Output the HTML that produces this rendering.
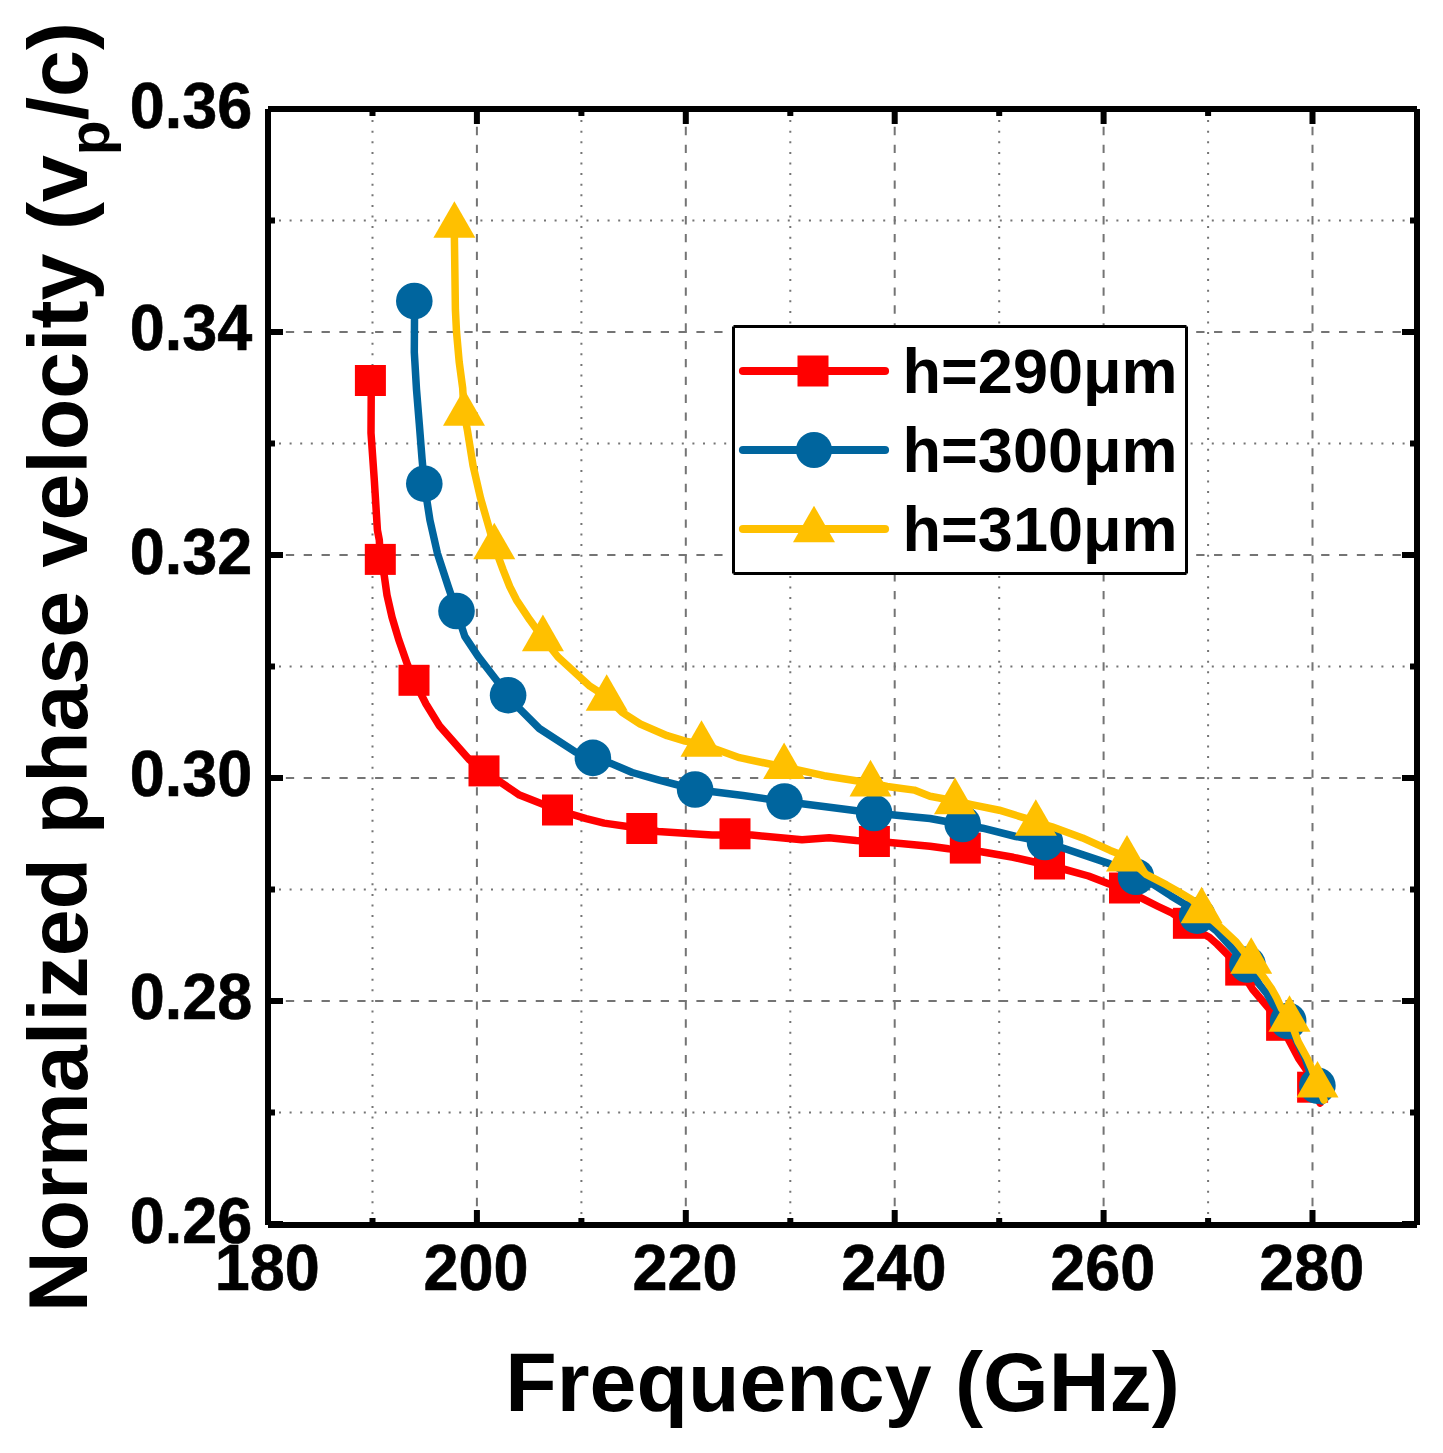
<!DOCTYPE html><html><head><meta charset="utf-8"><style>
html,body{margin:0;padding:0;background:#fff;}
svg{display:block;}
text{font-family:"Liberation Sans",sans-serif;font-weight:bold;fill:#000;}
</style></head><body>
<svg width="1443" height="1453" viewBox="0 0 1443 1453">
<rect width="1443" height="1453" fill="#fff"/>
<line x1="372.5" y1="1213.9" x2="372.5" y2="112" stroke="#747474" stroke-width="2" stroke-dasharray="2 8.6"/>
<line x1="581.4" y1="1213.9" x2="581.4" y2="112" stroke="#747474" stroke-width="2" stroke-dasharray="2 8.6"/>
<line x1="790.3" y1="1213.9" x2="790.3" y2="112" stroke="#747474" stroke-width="2" stroke-dasharray="2 8.6"/>
<line x1="999.2" y1="1213.9" x2="999.2" y2="112" stroke="#747474" stroke-width="2" stroke-dasharray="2 8.6"/>
<line x1="1208.1" y1="1213.9" x2="1208.1" y2="112" stroke="#747474" stroke-width="2" stroke-dasharray="2 8.6"/>
<line x1="476.9" y1="109" x2="476.9" y2="1225" stroke="#747474" stroke-width="2" stroke-dasharray="8.3 9.55"/>
<line x1="685.8" y1="109" x2="685.8" y2="1225" stroke="#747474" stroke-width="2" stroke-dasharray="8.3 9.55"/>
<line x1="894.7" y1="109" x2="894.7" y2="1225" stroke="#747474" stroke-width="2" stroke-dasharray="8.3 9.55"/>
<line x1="1103.6" y1="109" x2="1103.6" y2="1225" stroke="#747474" stroke-width="2" stroke-dasharray="8.3 9.55"/>
<line x1="1312.5" y1="109" x2="1312.5" y2="1225" stroke="#747474" stroke-width="2" stroke-dasharray="8.3 9.55"/>
<line x1="279" y1="220.5" x2="1414" y2="220.5" stroke="#747474" stroke-width="2" stroke-dasharray="2 8.6"/>
<line x1="279" y1="443.5" x2="1414" y2="443.5" stroke="#747474" stroke-width="2" stroke-dasharray="2 8.6"/>
<line x1="279" y1="666.5" x2="1414" y2="666.5" stroke="#747474" stroke-width="2" stroke-dasharray="2 8.6"/>
<line x1="279" y1="889.5" x2="1414" y2="889.5" stroke="#747474" stroke-width="2" stroke-dasharray="2 8.6"/>
<line x1="279" y1="1112.5" x2="1414" y2="1112.5" stroke="#747474" stroke-width="2" stroke-dasharray="2 8.6"/>
<line x1="268" y1="332.0" x2="1417" y2="332.0" stroke="#747474" stroke-width="2" stroke-dasharray="8.3 9.55"/>
<line x1="268" y1="555.0" x2="1417" y2="555.0" stroke="#747474" stroke-width="2" stroke-dasharray="8.3 9.55"/>
<line x1="268" y1="778.0" x2="1417" y2="778.0" stroke="#747474" stroke-width="2" stroke-dasharray="8.3 9.55"/>
<line x1="268" y1="1001.0" x2="1417" y2="1001.0" stroke="#747474" stroke-width="2" stroke-dasharray="8.3 9.55"/>
<rect x="265.0" y="1210" width="6" height="12"/>
<rect x="265.0" y="112" width="6" height="12"/>
<rect x="369.5" y="1218" width="6" height="4"/>
<rect x="369.5" y="112" width="6" height="4"/>
<rect x="473.9" y="1210" width="6" height="12"/>
<rect x="473.9" y="112" width="6" height="12"/>
<rect x="578.4" y="1218" width="6" height="4"/>
<rect x="578.4" y="112" width="6" height="4"/>
<rect x="682.8" y="1210" width="6" height="12"/>
<rect x="682.8" y="112" width="6" height="12"/>
<rect x="787.3" y="1218" width="6" height="4"/>
<rect x="787.3" y="112" width="6" height="4"/>
<rect x="891.7" y="1210" width="6" height="12"/>
<rect x="891.7" y="112" width="6" height="12"/>
<rect x="996.2" y="1218" width="6" height="4"/>
<rect x="996.2" y="112" width="6" height="4"/>
<rect x="1100.6" y="1210" width="6" height="12"/>
<rect x="1100.6" y="112" width="6" height="12"/>
<rect x="1205.1" y="1218" width="6" height="4"/>
<rect x="1205.1" y="112" width="6" height="4"/>
<rect x="1309.5" y="1210" width="6" height="12"/>
<rect x="1309.5" y="112" width="6" height="12"/>
<rect x="1414.0" y="1218" width="6" height="4"/>
<rect x="1414.0" y="112" width="6" height="4"/>
<rect x="271" y="1221.0" width="12" height="6"/>
<rect x="1402" y="1221.0" width="12" height="6"/>
<rect x="271" y="1109.5" width="4" height="6"/>
<rect x="1410" y="1109.5" width="4" height="6"/>
<rect x="271" y="998.0" width="12" height="6"/>
<rect x="1402" y="998.0" width="12" height="6"/>
<rect x="271" y="886.5" width="4" height="6"/>
<rect x="1410" y="886.5" width="4" height="6"/>
<rect x="271" y="775.0" width="12" height="6"/>
<rect x="1402" y="775.0" width="12" height="6"/>
<rect x="271" y="663.5" width="4" height="6"/>
<rect x="1410" y="663.5" width="4" height="6"/>
<rect x="271" y="552.0" width="12" height="6"/>
<rect x="1402" y="552.0" width="12" height="6"/>
<rect x="271" y="440.5" width="4" height="6"/>
<rect x="1410" y="440.5" width="4" height="6"/>
<rect x="271" y="329.0" width="12" height="6"/>
<rect x="1402" y="329.0" width="12" height="6"/>
<rect x="271" y="217.5" width="4" height="6"/>
<rect x="1410" y="217.5" width="4" height="6"/>
<rect x="271" y="106.0" width="12" height="6"/>
<rect x="1402" y="106.0" width="12" height="6"/>
<path d="M268,106H1417V112H268Z M268,1222H1417V1228H268Z M265,109H271V1225H265Z M1414,109H1420V1225H1414Z" fill="#000"/>
<g fill="#ff0000"><path d="M370.4,380.5 L371.2,396.0 L371.0,433.0 L374.3,480.0 L377.4,530.0 L379.3,540.0 L380.4,559.4 L384.2,575.3 L387.0,595.1 L392.0,617.1 L398.6,639.2 L407.4,664.5 L414.0,680.3 L426.0,704.0 L439.4,725.7 L469.4,759.8 L484.0,770.9 L519.5,795.1 L557.5,810.0 L586.1,818.6 L604.1,823.1 L641.8,828.5 L658.0,831.5 L685.0,833.3 L712.0,835.1 L735.0,835.0 L751.7,835.1 L802.0,839.8 L829.2,837.8 L856.2,840.5 L874.4,841.8 L889.9,842.5 L930.0,846.2 L948.5,848.8 L965.3,850.3 L981.3,851.8 L1013.2,857.3 L1049.5,865.5 L1065.0,869.5 L1088.5,876.0 L1108.6,883.7 L1124.5,889.5 L1141.6,898.2 L1158.2,906.5 L1172.3,913.2 L1188.4,923.3 L1201.5,933.0 L1209.3,937.2 L1217.0,944.0 L1228.5,955.5 L1240.7,970.4 L1252.6,989.2 L1269.0,1008.5 L1281.6,1025.3 L1289.6,1041.6 L1298.5,1058.3 L1306.6,1070.0 L1312.6,1087.2 L1320.0,1103.0" fill="none" stroke="#ff0000" stroke-width="7.5" stroke-linecap="round" stroke-linejoin="round"/><rect x="354.9" y="365.0" width="31" height="31"/><rect x="364.8" y="543.9" width="31" height="31"/><rect x="398.5" y="664.8" width="31" height="31"/><rect x="468.5" y="755.4" width="31" height="31"/><rect x="542.0" y="794.5" width="31" height="31"/><rect x="626.3" y="813.0" width="31" height="31"/><rect x="719.5" y="818.3" width="31" height="31"/><rect x="858.9" y="826.0" width="31" height="31"/><rect x="949.8" y="832.6" width="31" height="31"/><rect x="1034.0" y="848.5" width="31" height="31"/><rect x="1109.0" y="872.5" width="31" height="31"/><rect x="1172.9" y="907.8" width="31" height="31"/><rect x="1225.2" y="954.6" width="31" height="31"/><rect x="1266.1" y="1009.8" width="31" height="31"/><rect x="1297.1" y="1071.7" width="31" height="31"/></g>
<g fill="#00659e"><path d="M414.3,301.0 L414.5,319.3 L414.3,352.3 L416.5,389.5 L419.3,424.0 L422.0,458.4 L424.3,483.7 L429.9,520.0 L437.4,553.3 L448.2,586.5 L456.5,611.0 L464.8,636.4 L478.1,656.4 L494.8,678.0 L508.1,695.2 L517.7,706.8 L539.3,728.5 L575.3,751.9 L592.9,757.9 L611.4,763.6 L632.2,772.5 L658.2,779.8 L695.1,789.5 L743.1,795.5 L784.5,801.5 L829.5,807.2 L874.1,813.0 L914.2,817.1 L930.0,818.5 L962.6,824.5 L982.7,828.2 L1015.9,836.5 L1044.9,842.0 L1063.6,848.3 L1109.3,863.6 L1136.0,876.8 L1154.0,884.9 L1170.7,895.7 L1187.3,905.7 L1198.0,916.0 L1217.0,931.4 L1235.3,951.7 L1248.0,964.2 L1259.4,984.4 L1267.1,994.0 L1273.8,1005.6 L1288.2,1021.0 L1297.0,1041.6 L1305.4,1058.3 L1309.5,1071.0 L1317.4,1085.7 L1322.0,1101.0" fill="none" stroke="#00659e" stroke-width="7.5" stroke-linecap="round" stroke-linejoin="round"/><circle cx="414.3" cy="301.0" r="18.3"/><circle cx="424.3" cy="483.7" r="18.3"/><circle cx="456.5" cy="611.0" r="18.3"/><circle cx="508.1" cy="695.2" r="18.3"/><circle cx="592.9" cy="757.9" r="18.3"/><circle cx="695.1" cy="789.5" r="18.3"/><circle cx="784.5" cy="801.5" r="18.3"/><circle cx="874.1" cy="813.0" r="18.3"/><circle cx="962.7" cy="824.0" r="18.3"/><circle cx="1045.0" cy="842.0" r="18.3"/><circle cx="1136.0" cy="876.8" r="18.3"/><circle cx="1197.2" cy="915.6" r="18.3"/><circle cx="1247.5" cy="964.5" r="18.3"/><circle cx="1288.2" cy="1021.0" r="18.3"/><circle cx="1317.4" cy="1085.7" r="18.3"/></g>
<g fill="#ffc000"><path d="M454.4,224.0 L454.4,237.8 L455.4,309.7 L456.5,331.7 L459.2,362.0 L462.7,388.2 L464.0,412.0 L467.5,430.9 L473.0,465.3 L480.6,498.3 L494.3,546.0 L503.1,569.9 L509.7,586.5 L516.4,599.8 L529.7,619.8 L542.9,638.0 L558.0,657.0 L589.9,686.2 L606.7,697.0 L622.2,712.3 L640.2,724.0 L667.2,735.7 L685.2,741.1 L701.5,744.0 L739.5,757.7 L784.1,767.0 L824.1,775.7 L870.5,783.0 L887.2,786.5 L914.2,790.1 L930.0,796.3 L955.4,801.0 L971.6,804.6 L999.3,810.2 L1024.2,817.8 L1035.8,822.0 L1052.0,826.8 L1082.5,837.9 L1110.2,850.4 L1127.0,857.0 L1145.7,874.1 L1166.5,884.9 L1179.0,892.0 L1191.5,899.4 L1201.6,909.0 L1210.6,918.5 L1221.8,928.5 L1236.2,942.0 L1251.2,961.0 L1263.2,976.7 L1271.9,989.2 L1276.7,997.9 L1281.5,1008.5 L1289.5,1018.0 L1298.1,1041.6 L1307.2,1058.3 L1311.0,1067.0 L1317.5,1084.0 L1324.0,1100.0" fill="none" stroke="#ffc000" stroke-width="7.5" stroke-linecap="round" stroke-linejoin="round"/><path d="M454.4,201.2 L475.4,237.8 L433.4,237.8 Z"/><path d="M464.0,389.1 L485.0,425.7 L443.0,425.7 Z"/><path d="M494.3,522.7 L515.3,559.3 L473.3,559.3 Z"/><path d="M542.9,614.6 L563.9,651.2 L521.9,651.2 Z"/><path d="M606.7,674.2 L627.7,710.8 L585.7,710.8 Z"/><path d="M701.5,720.2 L722.5,756.8 L680.5,756.8 Z"/><path d="M784.1,742.5 L805.1,779.1 L763.1,779.1 Z"/><path d="M870.5,759.8 L891.5,796.4 L849.5,796.4 Z"/><path d="M955.0,777.6 L976.0,814.2 L934.0,814.2 Z"/><path d="M1035.8,799.2 L1056.8,835.8 L1014.8,835.8 Z"/><path d="M1127.0,835.0 L1148.0,871.6 L1106.0,871.6 Z"/><path d="M1201.6,886.7 L1222.6,923.3 L1180.6,923.3 Z"/><path d="M1251.2,937.2 L1272.2,973.8 L1230.2,973.8 Z"/><path d="M1289.5,995.2 L1310.5,1031.8 L1268.5,1031.8 Z"/><path d="M1317.5,1060.9 L1338.5,1097.5 L1296.5,1097.5 Z"/></g>
<rect x="733.5" y="326.5" width="453" height="247" fill="#fff"/>
<path d="M733.5,325H1186.5V328H733.5Z M733.5,572H1186.5V575H733.5Z M732,326.5H735V573.5H732Z M1185,326.5H1188V573.5H1185Z" fill="#000"/>
<line x1="743" y1="371.0" x2="885" y2="371.0" stroke="#ff0000" stroke-width="8.2" stroke-linecap="round"/>
<rect x="797.5" y="355.5" width="31" height="31" fill="#ff0000"/>
<text x="902.6" y="392.7" font-size="63">h=290μm</text>
<line x1="743" y1="450.0" x2="885" y2="450.0" stroke="#00659e" stroke-width="8.2" stroke-linecap="round"/>
<circle cx="814" cy="450.0" r="18" fill="#00659e"/>
<text x="902.6" y="471.7" font-size="63">h=300μm</text>
<line x1="743" y1="529.0" x2="885" y2="529.0" stroke="#ffc000" stroke-width="8.2" stroke-linecap="round"/>
<g fill="#ffc000"><path d="M814.0,505.7 L835.0,542.3 L793.0,542.3 Z"/></g>
<text x="902.6" y="550.7" font-size="63">h=310μm</text>
<text transform="translate(252.3,1243.0) scale(1,1.015)" font-size="63" text-anchor="end" stroke="#000" stroke-width="0.6" stroke-linejoin="round">0.26</text>
<text transform="translate(252.3,1019.0) scale(1,1.015)" font-size="63" text-anchor="end" stroke="#000" stroke-width="0.6" stroke-linejoin="round">0.28</text>
<text transform="translate(252.3,796.3) scale(1,1.015)" font-size="63" text-anchor="end" stroke="#000" stroke-width="0.6" stroke-linejoin="round">0.30</text>
<text transform="translate(252.3,574.0) scale(1,1.015)" font-size="63" text-anchor="end" stroke="#000" stroke-width="0.6" stroke-linejoin="round">0.32</text>
<text transform="translate(252.3,350.1) scale(1,1.015)" font-size="63" text-anchor="end" stroke="#000" stroke-width="0.6" stroke-linejoin="round">0.34</text>
<text transform="translate(252.3,128.1) scale(1,1.015)" font-size="63" text-anchor="end" stroke="#000" stroke-width="0.6" stroke-linejoin="round">0.36</text>
<text transform="translate(267.2,1289.7) scale(1,1.015)" font-size="63" text-anchor="middle" stroke="#000" stroke-width="0.6" stroke-linejoin="round">180</text>
<text transform="translate(476.1,1289.7) scale(1,1.015)" font-size="63" text-anchor="middle" stroke="#000" stroke-width="0.6" stroke-linejoin="round">200</text>
<text transform="translate(685.0,1289.7) scale(1,1.015)" font-size="63" text-anchor="middle" stroke="#000" stroke-width="0.6" stroke-linejoin="round">220</text>
<text transform="translate(893.9,1289.7) scale(1,1.015)" font-size="63" text-anchor="middle" stroke="#000" stroke-width="0.6" stroke-linejoin="round">240</text>
<text transform="translate(1102.8,1289.7) scale(1,1.015)" font-size="63" text-anchor="middle" stroke="#000" stroke-width="0.6" stroke-linejoin="round">260</text>
<text transform="translate(1311.7,1289.7) scale(1,1.015)" font-size="63" text-anchor="middle" stroke="#000" stroke-width="0.6" stroke-linejoin="round">280</text>
<text x="505.3" y="1411" font-size="84.3">Frequency (GHz)</text>
<text transform="translate(87.3,1312.3) rotate(-90)" font-size="84.3">Normalized phase velocity (v<tspan font-size="57" dy="22">p</tspan><tspan dy="-22">/c)</tspan></text>
</svg></body></html>
